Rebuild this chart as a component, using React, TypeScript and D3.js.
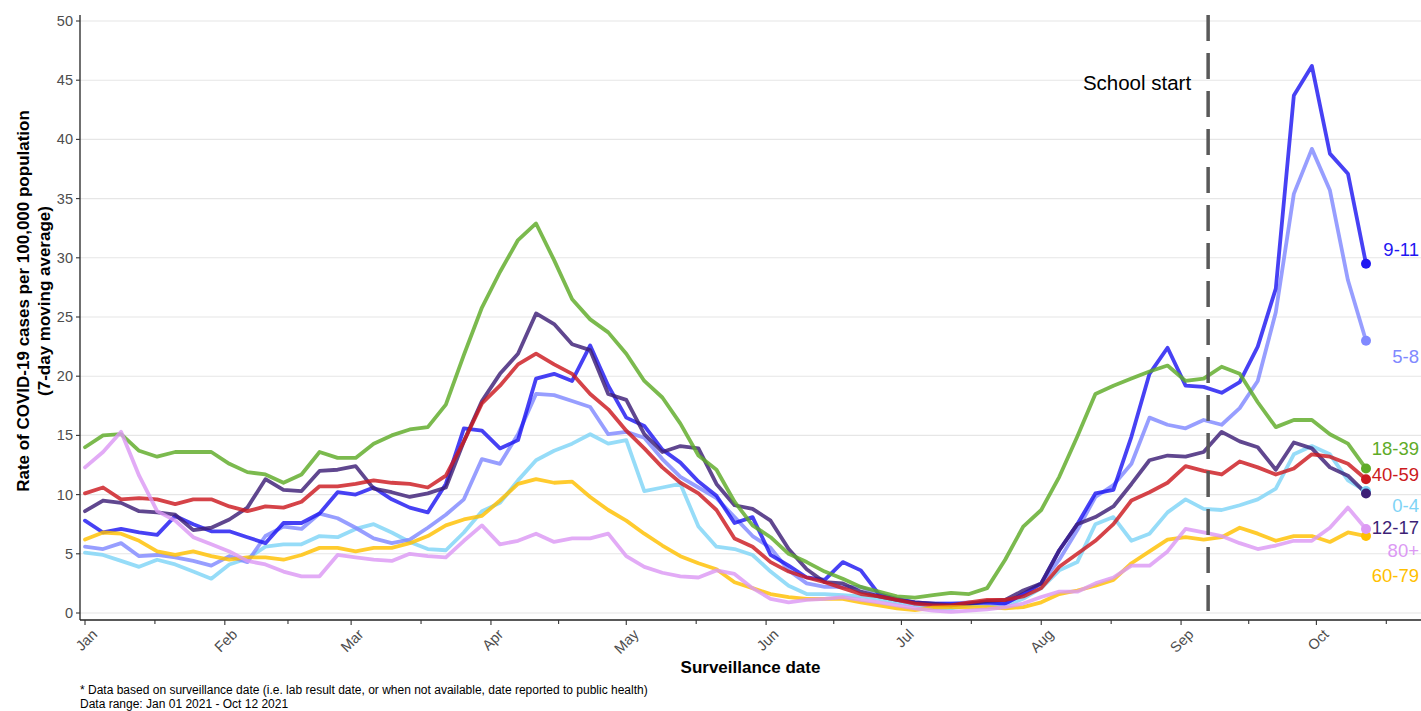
import * as d3 from 'd3';
import { useEffect, useRef } from 'react';

const W = 1421;
const H = 711;

// days after Jan 01 2021 at which the 7-day averages were read
const dayOffsets = [
  0, 4, 8, 12, 16, 20, 24, 28, 32, 36, 40, 44,
  48, 52, 56, 60, 64, 68, 72, 76, 80, 84, 88, 92,
  96, 100, 104, 108, 112, 116, 120, 124, 128, 132, 136, 140,
  144, 148, 152, 156, 160, 164, 168, 172, 176, 180, 184, 188,
  192, 196, 200, 204, 208, 212, 216, 220, 224, 228, 232, 236,
  240, 244, 248, 252, 256, 260, 264, 268, 272, 276, 280, 284,
];

const age0to4 = [
  5.1, 4.9, 4.4, 3.9, 4.5, 4.1, 3.5, 2.9, 4.1, 4.6, 5.6, 5.8,
  5.8, 6.5, 6.4, 7.1, 7.5, 6.8, 6.0, 5.4, 5.3, 6.8, 8.6, 9.3,
  11.2, 12.9, 13.7, 14.3, 15.1, 14.3, 14.6, 10.3, 10.6, 10.9, 7.3, 5.6,
  5.4, 4.9, 3.5, 2.3, 1.6, 1.6, 1.5, 1.4, 1.2, 0.9, 0.65, 0.4,
  0.4, 0.65, 0.7, 0.65, 1.2, 2.1, 3.6, 4.3, 7.5, 8.1, 6.1, 6.7,
  8.5, 9.6, 8.8, 8.7, 9.1, 9.6, 10.5, 13.4, 14.1, 13.4, 11.2, 10.3,
];

const age5to8 = [
  5.6, 5.4, 5.9, 4.8, 4.9, 4.7, 4.4, 4.0, 4.8, 4.3, 6.5, 7.3,
  7.1, 8.4, 8.0, 7.2, 6.3, 5.9, 6.2, 7.2, 8.3, 9.6, 13.0, 12.6,
  15.1, 18.5, 18.4, 17.9, 17.4, 15.1, 15.3, 14.8, 13.0, 11.5, 10.6, 9.7,
  8.1, 6.5, 5.5, 3.6, 2.5, 2.2, 2.2, 2.2, 1.6, 1.1, 0.8, 0.8,
  0.8, 0.9, 0.8, 0.8, 1.6, 2.5, 4.5, 7.0, 9.8, 10.8, 12.6, 16.5,
  15.9, 15.6, 16.3, 15.9, 17.3, 19.6, 25.4, 35.4, 39.2, 35.7, 28.1, 23.0,
];

const age9to11 = [
  7.8, 6.8, 7.1, 6.8, 6.6, 8.2, 7.5, 6.9, 6.9, 6.4, 5.9, 7.6,
  7.6, 8.4, 10.2, 10.0, 10.6, 9.6, 8.9, 8.5, 10.9, 15.6, 15.4, 13.9,
  14.6, 19.8, 20.2, 19.6, 22.6, 19.2, 16.5, 15.8, 13.8, 12.7, 11.1, 9.9,
  7.6, 8.1, 4.9, 4.0, 3.0, 2.8, 4.3, 3.6, 1.6, 1.2, 0.9, 0.8,
  0.8, 0.8, 0.9, 0.8, 1.6, 2.5, 5.3, 7.5, 10.1, 10.4, 14.9, 20.2,
  22.4, 19.2, 19.1, 18.6, 19.5, 22.5, 27.4, 43.7, 46.2, 38.8, 37.1, 29.5,
];

const age12to17 = [
  8.6, 9.5, 9.3, 8.6, 8.5, 8.3, 7.0, 7.2, 7.9, 8.9, 11.3, 10.4,
  10.3, 12.0, 12.1, 12.4, 10.5, 10.2, 9.8, 10.1, 10.6, 14.5, 17.9, 20.2,
  21.9, 25.3, 24.4, 22.7, 22.2, 18.5, 18.0, 15.1, 13.6, 14.1, 13.9, 10.9,
  9.1, 8.8, 7.8, 5.4, 3.7, 2.6, 2.5, 1.8, 1.4, 1.1, 0.9, 0.8,
  0.65, 0.8, 1.0, 1.1, 1.9, 2.5, 5.3, 7.5, 8.1, 9.0, 10.9, 12.9,
  13.3, 13.2, 13.6, 15.3, 14.5, 14.0, 12.1, 14.4, 13.9, 12.3, 11.6, 10.1,
];

const age18to39 = [
  14.0, 15.0, 15.1, 13.7, 13.2, 13.6, 13.6, 13.6, 12.6, 11.9, 11.7, 11.0,
  11.7, 13.6, 13.1, 13.1, 14.3, 15.0, 15.5, 15.7, 17.6, 21.8, 25.8, 28.8,
  31.5, 32.9, 29.8, 26.5, 24.8, 23.7, 21.9, 19.6, 18.2, 16.0, 13.3, 12.1,
  9.4, 7.4, 6.4, 5.0, 4.3, 3.5, 2.9, 2.2, 1.8, 1.4, 1.3, 1.5,
  1.7, 1.6, 2.1, 4.5, 7.3, 8.7, 11.5, 14.9, 18.5, 19.2, 19.8, 20.4,
  20.9, 19.6, 19.8, 20.8, 20.2, 17.8, 15.7, 16.3, 16.3, 15.1, 14.3, 12.2,
];

const age40to59 = [
  10.1, 10.6, 9.6, 9.7, 9.6, 9.2, 9.6, 9.6, 9.0, 8.6, 9.0, 8.9,
  9.4, 10.7, 10.7, 10.9, 11.2, 11.0, 10.9, 10.6, 11.6, 14.5, 17.7, 19.2,
  21.0, 21.9, 21.0, 20.2, 18.5, 17.2, 15.4, 13.9, 12.3, 11.0, 10.1, 8.7,
  6.3, 5.6, 4.3, 3.5, 3.0, 2.6, 2.1, 1.6, 1.4, 1.1, 0.8, 0.65,
  0.65, 0.9, 1.1, 1.1, 1.4, 2.1, 3.9, 5.0, 6.1, 7.5, 9.5, 10.2,
  11.0, 12.4, 12.0, 11.7, 12.8, 12.3, 11.7, 12.2, 13.4, 13.2, 12.6, 11.3,
];

const age60to79 = [
  6.2, 6.8, 6.7, 6.1, 5.2, 4.9, 5.2, 4.8, 4.5, 4.7, 4.7, 4.5,
  4.9, 5.5, 5.5, 5.2, 5.5, 5.5, 5.9, 6.5, 7.4, 7.9, 8.2, 9.5,
  10.9, 11.3, 11.0, 11.1, 9.8, 8.7, 7.8, 6.7, 5.7, 4.8, 4.2, 3.7,
  2.6, 2.1, 1.6, 1.35, 1.2, 1.2, 1.2, 0.9, 0.65, 0.4, 0.25, 0.45,
  0.5, 0.5, 0.5, 0.4, 0.5, 0.9, 1.6, 1.9, 2.3, 2.8, 4.2, 5.2,
  6.2, 6.4, 6.2, 6.4, 7.2, 6.7, 6.1, 6.5, 6.5, 6.0, 6.8, 6.5,
];

const age80plus = [
  12.3, 13.6, 15.3, 11.6, 8.6, 7.8, 6.4, 5.8, 5.2, 4.4, 4.1, 3.5,
  3.1, 3.1, 4.9, 4.7, 4.5, 4.4, 5.0, 4.8, 4.7, 6.1, 7.4, 5.8,
  6.1, 6.7, 6.0, 6.3, 6.3, 6.7, 4.8, 3.9, 3.4, 3.1, 3.0, 3.6,
  3.3, 2.1, 1.2, 0.9, 1.1, 1.2, 1.35, 1.1, 0.9, 0.65, 0.4, 0.2,
  0.1, 0.2, 0.3, 0.5, 0.8, 1.35, 1.8, 1.8, 2.5, 3.0, 4.0, 4.0,
  5.2, 7.1, 6.8, 6.5, 5.9, 5.4, 5.7, 6.1, 6.1, 7.2, 8.9, 7.1,
];

// names, colours and where the end labels sit (in rate units)
const groupNames = ['0-4', '5-8', '9-11', '12-17', '18-39', '40-59', '60-79', '80+'];
const groupValues = [age0to4, age5to8, age9to11, age12to17, age18to39, age40to59, age60to79, age80plus];
const groupColors = ['#7fd4f6', '#8089ff', '#1f17f2', '#3d1f76', '#5eab27', '#cc1a20', '#ffbf00', '#dc99f4'];
const labelRates = [9.1, 21.7, 30.7, 7.25, 13.9, 11.7, 3.2, 5.3];

const yTicks = [0, 5, 10, 15, 20, 25, 30, 35, 40, 45, 50];
const schoolStart = new Date(Date.UTC(2021, 8, 7));

const FONT = '"Liberation Sans", Arial, Helvetica, sans-serif';

export default function App() {
  const svgRef = useRef<SVGSVGElement | null>(null);

  useEffect(() => {
    const svg = d3.select(svgRef.current);
    svg.selectAll('*').remove();

    const left = 80;
    const right = W;
    const top = 15;
    const bottom = 620;

    const start = Date.UTC(2021, 0, 1);
    const dayMs = 86400000;
    const dateAt = (d: number) => new Date(start + d * dayMs);

    const x = d3
      .scaleUtc()
      .domain([dateAt(0), dateAt(284)])
      .range([85, 1366]);
    const y = d3.scaleLinear().domain([0, 50]).range([613, 21]);

    svg.append('rect').attr('width', W).attr('height', H).attr('fill', '#fff');

    // horizontal grid
    svg
      .append('g')
      .selectAll('line')
      .data(yTicks)
      .enter()
      .append('line')
      .attr('x1', left)
      .attr('x2', right)
      .attr('y1', (d) => y(d))
      .attr('y2', (d) => y(d))
      .attr('stroke', '#e6e6e6')
      .attr('stroke-width', 1.1);

    // series
    const line = d3
      .line<number>()
      .x((_, i) => x(dateAt(dayOffsets[i])))
      .y((v) => y(v));

    const lines = svg.append('g');
    groupValues.forEach((vals, i) => {
      lines
        .append('path')
        .attr('d', line(vals))
        .attr('fill', 'none')
        .attr('stroke', groupColors[i])
        .attr('stroke-opacity', 0.82)
        .attr('stroke-width', 3.8)
        .attr('stroke-linejoin', 'round')
        .attr('stroke-linecap', 'round');
    });

    // school start
    svg
      .append('line')
      .attr('x1', x(schoolStart))
      .attr('x2', x(schoolStart))
      .attr('y1', top)
      .attr('y2', bottom)
      .attr('stroke', '#595959')
      .attr('stroke-width', 3.5)
      .attr('stroke-dasharray', '26 12');

    svg
      .append('text')
      .attr('x', x(schoolStart) - 17)
      .attr('y', 82)
      .attr('text-anchor', 'end')
      .attr('dominant-baseline', 'central')
      .attr('font-family', FONT)
      .attr('font-size', 20.5)
      .attr('fill', '#000')
      .text('School start');

    // end points and labels
    const last = dayOffsets.length - 1;
    groupValues.forEach((vals, i) => {
      svg
        .append('circle')
        .attr('cx', x(dateAt(dayOffsets[last])))
        .attr('cy', y(vals[last]))
        .attr('r', 5)
        .attr('fill', groupColors[i]);
      svg
        .append('text')
        .attr('x', 1419)
        .attr('y', y(labelRates[i]))
        .attr('text-anchor', 'end')
        .attr('dominant-baseline', 'central')
        .attr('font-family', FONT)
        .attr('font-size', 18.5)
        .attr('fill', groupColors[i])
        .text(groupNames[i]);
    });

    // axes
    const axis = svg.append('g').attr('font-family', FONT);
    axis
      .append('line')
      .attr('x1', left)
      .attr('x2', left)
      .attr('y1', top)
      .attr('y2', bottom)
      .attr('stroke', '#222')
      .attr('stroke-width', 1.3);
    axis
      .append('line')
      .attr('x1', left)
      .attr('x2', right)
      .attr('y1', bottom)
      .attr('y2', bottom)
      .attr('stroke', '#222')
      .attr('stroke-width', 1.3);

    const yt = axis.selectAll('.yt').data(yTicks).enter().append('g');
    yt.append('line')
      .attr('x1', left - 4)
      .attr('x2', left)
      .attr('y1', (d) => y(d))
      .attr('y2', (d) => y(d))
      .attr('stroke', '#333')
      .attr('stroke-width', 1.1);
    yt.append('text')
      .attr('x', left - 7)
      .attr('y', (d) => y(d))
      .attr('text-anchor', 'end')
      .attr('dominant-baseline', 'central')
      .attr('font-size', 14.5)
      .attr('fill', '#4d4d4d')
      .text((d) => String(d));

    const months = d3.utcMonth.range(dateAt(0), new Date(Date.UTC(2021, 10, 1)));
    const fmt = d3.utcFormat('%b');
    const minor = months.map((m) => {
      const next = d3.utcMonth.offset(m, 1);
      return new Date((m.getTime() + next.getTime()) / 2);
    });

    axis
      .selectAll('.minor')
      .data(minor)
      .enter()
      .append('line')
      .attr('x1', (d) => x(d))
      .attr('x2', (d) => x(d))
      .attr('y1', bottom)
      .attr('y2', bottom + 4)
      .attr('stroke', '#333')
      .attr('stroke-width', 1.1);

    const xt = axis.selectAll('.xt').data(months).enter().append('g');
    xt.append('line')
      .attr('x1', (d) => x(d))
      .attr('x2', (d) => x(d))
      .attr('y1', bottom)
      .attr('y2', bottom + 5)
      .attr('stroke', '#333')
      .attr('stroke-width', 1.1);
    xt.append('text')
      .attr('transform', (d) => `translate(${x(d) + 6},${bottom + 8}) rotate(-45)`)
      .attr('text-anchor', 'end')
      .attr('dy', '0.71em')
      .attr('font-size', 14.5)
      .attr('fill', '#4d4d4d')
      .text((d) => fmt(d));

    // titles
    svg
      .append('text')
      .attr('x', (left + right) / 2)
      .attr('y', 673)
      .attr('text-anchor', 'middle')
      .attr('font-family', FONT)
      .attr('font-weight', 'bold')
      .attr('font-size', 17)
      .text('Surveillance date');

    const yTitle = svg
      .append('text')
      .attr('transform', 'translate(0,301) rotate(-90)')
      .attr('text-anchor', 'middle')
      .attr('font-family', FONT)
      .attr('font-weight', 'bold')
      .attr('font-size', 17);
    yTitle.append('tspan').attr('x', 0).attr('y', 29).text('Rate of COVID-19 cases per 100,000 population');
    yTitle.append('tspan').attr('x', 0).attr('y', 50).text('(7-day moving average)');

    const foot = svg
      .append('text')
      .attr('font-family', FONT)
      .attr('font-size', 12)
      .attr('fill', '#000');
    foot
      .append('tspan')
      .attr('x', 80)
      .attr('y', 694)
      .text('* Data based on surveillance date (i.e. lab result date, or when not available, date reported to public health)');
    foot.append('tspan').attr('x', 80).attr('y', 708).text('Data range: Jan 01 2021 - Oct 12 2021');
  }, []);

  return (
    <svg
      ref={svgRef}
      width={W}
      height={H}
      style={{ position: 'absolute', left: 0, top: 0, display: 'block' }}
    />
  );
}
